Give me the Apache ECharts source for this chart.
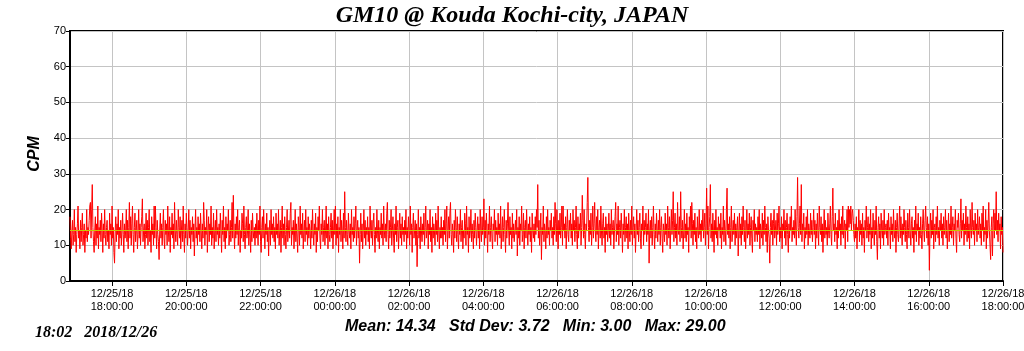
<!DOCTYPE html>
<html>
<head>
<meta charset="utf-8">
<script src="https://cdn.jsdelivr.net/npm/echarts@6/dist/echarts.min.js"></script>
<style>html,body{margin:0;padding:0;background:#fff}#c{width:1024px;height:351px}</style>
</head>
<body>
<div id="c"></div>
<script>
// ---- data ----
const startTime = '2018-12-25T16:52:00';
const stepMinutes = 1;
const cpmValues = [
18,12,9,14,17,10,13,20,11,15,8,13,16,21,12,14,9,17,11,15,19,10,13,16,8,14,12,20,11,15,
13,17,21,22,12,20,27,15,11,8,14,18,10,16,12,21,9,15,13,17,11,19,14,8,16,12,20,13,10,15,
17,11,14,9,19,13,16,10,21,12,15,8,5,14,18,11,16,13,20,9,15,12,17,10,14,19,13,8,16,12,
14,20,11,17,9,15,22,12,18,10,16,21,13,8,15,19,11,14,17,9,13,20,12,16,10,15,18,23,11,14,
16,9,13,19,12,17,10,15,20,11,14,8,18,13,16,10,21,12,21,15,9,17,13,11,6,14,19,12,16,10,
15,20,12,9,17,13,16,10,21,14,11,18,8,15,13,19,12,16,9,22,14,11,17,13,10,20,15,12,18,9,
14,17,11,21,13,8,16,12,19,15,10,14,20,12,17,9,15,13,18,11,16,7,14,20,12,15,10,18,13,16,
11,19,14,9,16,12,22,17,10,15,13,20,8,14,18,11,16,13,21,10,15,12,19,9,14,17,11,20,13,15,
10,16,12,19,14,8,17,13,21,11,15,9,18,12,16,14,20,10,13,17,11,15,22,12,24,14,9,16,12,18,
13,20,10,15,17,8,14,12,19,16,11,21,13,9,15,18,12,14,20,10,16,13,8,17,11,19,14,12,15,10,
16,12,19,14,10,17,13,21,11,8,15,18,12,20,14,9,16,13,19,11,15,7,14,17,10,20,13,16,12,18,
11,15,9,19,13,16,12,20,10,14,17,8,15,21,12,16,10,18,13,9,15,20,11,14,17,12,19,22,10,15,
13,17,9,14,20,11,16,12,8,18,15,10,21,13,16,12,19,9,14,17,11,20,13,15,10,18,12,16,14,9,
17,12,20,14,10,16,13,19,8,15,11,18,14,21,12,9,16,13,20,11,15,17,10,14,21,12,16,9,18,13,
11,15,19,12,17,9,14,20,13,21,10,16,12,18,8,15,13,20,11,17,14,9,19,12,25,15,11,17,13,10,
19,14,12,16,9,20,13,15,11,18,12,16,21,10,14,17,12,15,5,13,19,11,16,9,14,20,12,17,10,15,
13,18,11,15,9,21,14,12,17,10,16,19,13,8,15,12,20,14,11,17,9,15,13,19,12,16,10,21,14,12,
16,11,19,22,13,9,17,12,15,20,10,14,18,12,8,16,13,21,11,15,17,9,14,19,12,16,10,18,13,15,
11,17,13,20,9,15,12,18,14,10,21,13,16,8,15,19,12,14,17,10,16,4,13,20,12,15,9,18,14,11,
16,13,19,10,15,21,12,14,17,9,16,13,20,11,15,8,18,12,16,14,10,19,13,17,11,21,14,9,15,12,
18,12,15,10,17,13,20,11,16,21,9,14,18,12,19,22,13,10,16,14,8,17,12,20,15,11,18,13,9,16,
13,20,11,15,17,9,14,12,19,16,10,21,13,15,8,18,12,14,20,11,16,13,9,17,12,19,15,10,14,18,
12,16,9,20,14,11,18,13,15,23,10,17,12,19,14,8,16,13,21,11,15,18,12,9,16,14,20,11,17,13,
15,10,19,13,16,12,21,9,14,18,11,15,20,13,8,17,12,16,22,14,10,18,13,15,9,19,12,16,11,14,
17,13,20,7,15,12,18,10,16,14,21,11,13,19,9,15,17,12,20,14,10,16,13,18,11,15,8,19,14,12,
16,11,18,13,20,15,27,12,17,10,14,19,6,15,13,21,11,16,14,9,18,12,20,13,15,10,17,14,19,12,
15,10,18,13,22,16,11,20,14,9,17,13,19,12,15,21,10,21,14,16,12,18,9,15,20,13,11,17,14,19,
12,16,10,20,14,17,11,15,21,13,9,18,12,16,14,19,10,15,24,17,12,20,13,9,16,14,22,29,15,11,
17,13,19,10,15,21,12,16,22,14,11,18,13,20,9,15,17,12,21,14,10,16,19,12,15,8,18,13,16,11,
14,19,12,16,10,20,13,15,17,9,14,18,22,11,16,13,21,10,15,17,12,19,14,8,16,13,20,11,15,18,
12,16,9,19,14,11,17,13,21,10,15,18,12,16,8,14,20,13,17,11,15,19,12,9,16,14,21,10,17,13,
15,19,11,16,13,20,5,14,17,12,18,10,15,21,13,9,16,12,19,14,11,17,13,20,10,15,18,12,8,16,
14,11,19,13,16,10,21,15,12,18,9,14,20,13,17,25,11,15,19,12,16,10,22,14,13,18,11,25,15,12,
17,9,14,20,12,16,11,19,13,15,8,18,14,21,12,22,16,10,17,13,19,11,15,9,18,14,12,20,13,16,
11,17,14,20,12,15,19,10,16,26,13,21,9,15,18,27,12,16,11,19,14,8,17,13,20,12,15,10,18,14,
16,12,19,9,15,13,21,11,17,14,10,20,26,13,16,12,18,9,15,21,11,14,17,13,19,10,16,12,15,18,
7,14,19,12,16,10,18,13,21,15,11,17,9,14,20,12,16,13,19,10,15,18,12,8,17,14,20,11,16,13,
15,11,18,13,20,9,16,14,12,19,10,17,13,21,15,11,16,8,18,14,12,5,15,19,13,17,10,16,20,12,
14,17,10,19,13,16,21,11,15,12,18,9,16,14,20,12,17,10,15,19,13,8,16,12,18,14,21,11,15,13,
17,12,20,14,10,18,29,15,12,16,21,13,27,11,16,14,19,9,15,12,18,13,20,10,16,14,12,19,13,17,
11,15,20,13,17,9,16,12,19,14,10,21,15,13,18,11,16,8,14,20,12,17,13,15,10,19,14,12,16,21,
13,10,18,26,14,16,11,19,13,15,9,17,12,20,14,16,10,18,13,21,12,15,17,9,16,14,20,11,21,15,
20,16,21,14,19,20,17,13,11,16,12,18,9,15,14,20,11,17,13,16,10,19,12,15,8,17,14,21,12,15,
18,11,16,13,20,9,15,12,19,14,10,17,13,21,11,6,15,18,12,16,9,19,14,12,17,10,20,13,15,16,
12,17,10,19,14,15,9,18,13,16,11,20,14,12,17,8,15,19,13,11,16,21,12,18,14,10,16,13,20,15,
11,17,13,9,19,15,12,20,14,10,16,18,12,15,8,17,13,21,11,16,14,19,10,15,12,18,13,9,16,20,
14,11,17,21,15,12,18,10,16,3,14,19,12,17,13,20,9,15,16,11,18,13,21,12,15,10,17,14,19,12,
16,10,18,13,15,20,12,17,9,14,19,11,16,13,21,12,15,18,10,16,14,20,12,8,17,15,19,13,11,16,
23,12,17,14,19,10,16,13,21,15,11,18,12,16,9,20,14,12,22,15,13,17,10,19,14,16,11,20,13,15,
18,12,16,10,19,14,21,11,15,13,20,9,17,12,16,22,14,10,6,15,18,7,16,20,12,19,14,25,13,17,
11,19,14,16,9,18,13,15,8
];
const tickLabels = [
'12/25/18 18:00:00','12/25/18 20:00:00','12/25/18 22:00:00',
'12/26/18 00:00:00','12/26/18 02:00:00','12/26/18 04:00:00',
'12/26/18 06:00:00','12/26/18 08:00:00','12/26/18 10:00:00',
'12/26/18 12:00:00','12/26/18 14:00:00','12/26/18 16:00:00',
'12/26/18 18:00:00'
];
const meanValue = 14.34;
const titleText = 'GM10 @ Kouda Kochi-city, JAPAN';
const stampText = '18:02   2018/12/26';
const statsText = 'Mean: 14.34   Std Dev: 3.72   Min: 3.00   Max: 29.00';

// ---- build categories ----
function pad(n){return (n<10?'0':'')+n;}
const t0 = new Date(startTime).getTime();
const categories = cpmValues.map((v,i)=>{
  const d = new Date(t0 + i*stepMinutes*60000);
  return pad(d.getMonth()+1)+'/'+pad(d.getDate())+'/'+pad(d.getFullYear()%100)+' '+
         pad(d.getHours())+':'+pad(d.getMinutes())+':00';
});
const tickSet = new Set(tickLabels);
const isTick = (idx, val) => tickSet.has(val);

const chart = echarts.init(document.getElementById('c'), null, {renderer:'canvas'});
chart.setOption({
  animation:false,
  backgroundColor:'#fff',
  grid:{left:70,right:21,top:31,bottom:70,show:true,borderColor:'#000',borderWidth:2,
        backgroundColor:'transparent',containLabel:false,outerBoundsMode:'none'},
  xAxis:{
    type:'category',
    data:categories,
    boundaryGap:false,
    axisLine:{lineStyle:{color:'#000',width:2}},
    axisTick:{show:true,interval:isTick,length:5,inside:false,lineStyle:{color:'#000'}},
    splitLine:{show:true,interval:isTick,lineStyle:{color:'#c4c4c4',width:1}},
    axisLabel:{interval:isTick,color:'#000',fontFamily:'Liberation Sans, Arial',fontSize:11,lineHeight:13,margin:6,
      formatter:(v)=>v.replace(' ','\n'), showMaxLabel:true, hideOverlap:false}
  },
  yAxis:{
    type:'value',min:0,max:70,interval:10,
    axisLine:{show:true,lineStyle:{color:'#000',width:2}},
    axisTick:{show:true,length:4,lineStyle:{color:'#000'}},
    splitLine:{show:true,lineStyle:{color:'#c4c4c4',width:1}},
    axisLabel:{color:'#000',fontFamily:'Liberation Sans, Arial',fontSize:11,margin:4}
  },
  series:[{
    type:'line',
    data:[],
    symbol:'none',
    z:1,
    markLine:{
      silent:true,symbol:'none',label:{show:false},
      lineStyle:{color:'#c8c800',width:1,type:'solid'},
      data:[{yAxis:meanValue}]
    }
  },{
    type:'line',
    data:cpmValues,
    showSymbol:false,
    symbol:'none',
    sampling:null,
    lineStyle:{color:'#ff0000',width:1},
    clip:true,
    z:3
  }],
  graphic:[
    {type:'text',x:512,y:16,style:{text:titleText,font:'italic bold 24px "Liberation Serif", "Times New Roman", serif',fill:'#000',align:'center',verticalAlign:'middle'}},
    {type:'text',x:35,y:154,rotation:Math.PI/2,style:{text:'CPM',font:'italic bold 16px "Liberation Sans", Arial, sans-serif',fill:'#000',align:'center',verticalAlign:'middle'}},
    {type:'text',x:35,y:333,style:{text:stampText,font:'italic bold 16px "Liberation Serif", "Times New Roman", serif',fill:'#000',align:'left',verticalAlign:'middle'}},
    {type:'text',x:345,y:327,style:{text:statsText,font:'italic bold 16px "Liberation Sans", Arial, sans-serif',fill:'#000',align:'left',verticalAlign:'middle'}}
  ]
});
</script>
</body>
</html>
